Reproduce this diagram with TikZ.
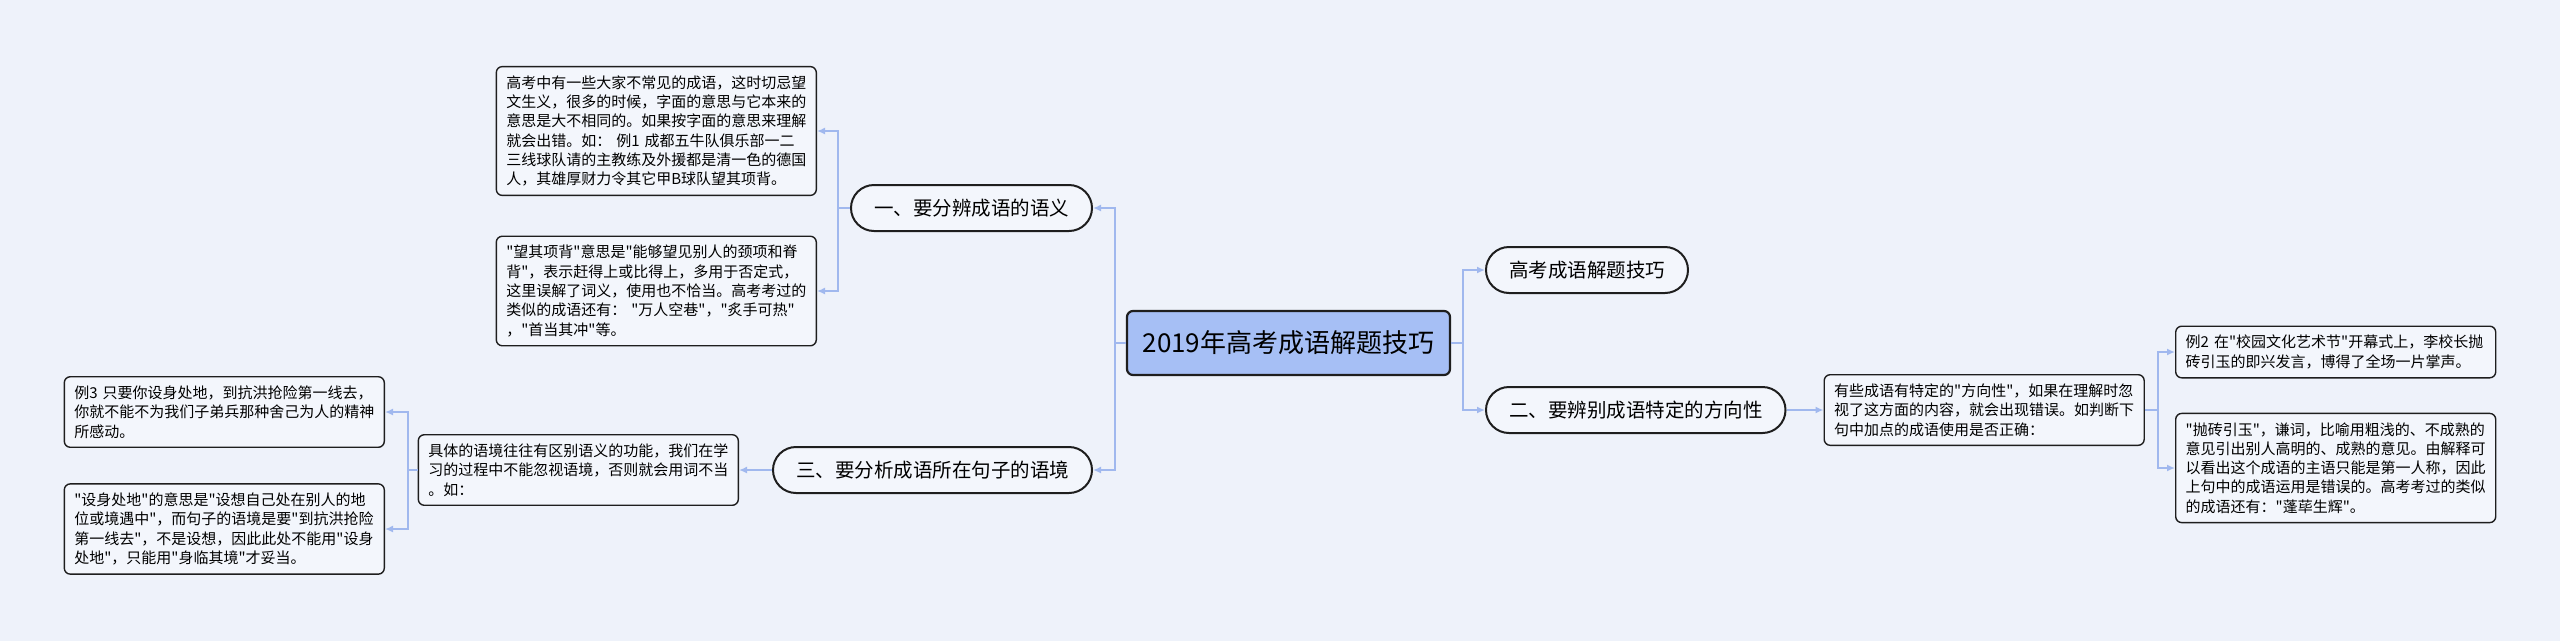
\documentclass[tikz,border=0pt]{standalone}
\usepackage{fontspec}
\setmainfont{Noto Sans CJK SC}[Ligatures=TeXOff]
\usetikzlibrary{arrows.meta, positioning}
\definecolor{bgcol}{RGB}{238,242,250}
\definecolor{boxfill}{RGB}{243,246,252}
\definecolor{rootfill}{RGB}{166,191,245}
\definecolor{linkcol}{RGB}{160,184,238}
\definecolor{edgecol}{RGB}{30,30,30}

\begin{document}
\begin{tikzpicture}[
		x=1pt, y=-1pt,
		>={Latex[length=8pt,width=7pt]},
		root/.style = {draw=edgecol, line width=2.2pt, rectangle, rounded corners=6pt, fill=rootfill, minimum width=323pt, minimum height=64pt, font=\fontsize{26pt}{30pt}\selectfont},
		topic/.style = {draw=edgecol, line width=2pt, rectangle, rounded corners=23pt, fill=boxfill, inner xsep=23pt, minimum height=46pt, font=\fontsize{19.5pt}{23pt}\selectfont},
		note/.style = {draw=edgecol, line width=1.4pt, rectangle, rounded corners=6pt, fill=boxfill, text width=300pt, inner xsep=10pt, inner ysep=9pt, align=left, font=\fontsize{15pt}{19.3pt}\selectfont},
		link/.style = {->, draw=linkcol, line width=1.8pt}
		]
		
		\fill [bgcol] (0,0) rectangle (2560,641);
		\useasboundingbox (0,0) rectangle (2560,641);
		
		\node [root] (root) at (1288.5,343) {2019年高考成语解题技巧};
		
		\node [topic, anchor=east] (yi) at (1093,208) {一、要分辨成语的语义};
		\node [topic, anchor=east] (san) at (1093,470) {三、要分析成语所在句子的语境};
		\node [topic, anchor=west] (skill) at (1485,270) {高考成语解题技巧};
		\node [topic, anchor=west] (er) at (1485,410) {二、要辨别成语特定的方向性};
		
		\node [note, anchor=east] (yiA) at (817,131) {高考中有一些大家不常见的成语，这时切忌望\\文生义，很多的时候，字面的意思与它本来的\\意思是大不相同的。如果按字面的意思来理解\\就会出错。如：  例1 成都五牛队俱乐部一二\\三线球队请的主教练及外援都是清一色的德国\\人，其雄厚财力令其它甲B球队望其项背。};
		\node [note, anchor=east] (yiB) at (817,291) {"望其项背"意思是"能够望见别人的颈项和脊\\背"，表示赶得上或比得上，多用于否定式，\\这里误解了词义，使用也不恰当。高考考过的\\类似的成语还有： "万人空巷"，"炙手可热"\\，"首当其冲"等。};
		
		\node [note, left=33pt of san] (sanA) {具体的语境往往有区别语义的功能，我们在学\\习的过程中不能忽视语境，否则就会用词不当\\。如：};
		\node [note, anchor=east] (sanB) at (385,412) {例3 只要你设身处地，到抗洪抢险第一线去，\\你就不能不为我们子弟兵那种舍己为人的精神\\所感动。};
		\node [note, anchor=east] (sanC) at (385,529) {"设身处地"的意思是"设想自己处在别人的地\\位或境遇中"，而句子的语境是要"到抗洪抢险\\第一线去"，不是设想，因此此处不能用"设身\\处地"，只能用"身临其境"才妥当。};
		
		\node [note, right=37pt of er] (erA) {有些成语有特定的"方向性"，如果在理解时忽\\视了这方面的内容，就会出现错误。如判断下\\句中加点的成语使用是否正确：};
		\node [note, anchor=west] (erB) at (2175,352) {例2 在"校园文化艺术节"开幕式上，李校长抛\\砖引玉的即兴发言，博得了全场一片掌声。};
		\node [note, anchor=west] (erC) at (2175,468) {"抛砖引玉"，谦词，比喻用粗浅的、不成熟的\\意见引出别人高明的、成熟的意见。由解释可\\以看出这个成语的主语只能是第一人称，因此\\上句中的成语运用是错误的。高考考过的类似\\的成语还有："蓬荜生辉"。};
		
		\draw [link] (root.west) -- ++(-11,0) |- (yi.east);
		\draw [link] (root.west) -- ++(-11,0) |- (san.east);
		\draw [link] (root.east) -- ++(12,0) |- (skill.west);
		\draw [link] (root.east) -- ++(12,0) |- (er.west);
		
		\draw [link] (yi.west) -- ++(-12,0) |- (yiA.east);
		\draw [link] (yi.west) -- ++(-12,0) |- (yiB.east);
		
		\draw [link] (san.west) -- (sanA.east);
		\draw [link] (sanA.west) -- ++(-10,0) |- (sanB.east);
		\draw [link] (sanA.west) -- ++(-10,0) |- (sanC.east);
		
		\draw [link] (er.east) -- (erA.west);
		\draw [link] (erA.east) -- ++(13,0) |- (erB.west);
		\draw [link] (erA.east) -- ++(13,0) |- (erC.west);
		
	\end{tikzpicture}
\end{document}
